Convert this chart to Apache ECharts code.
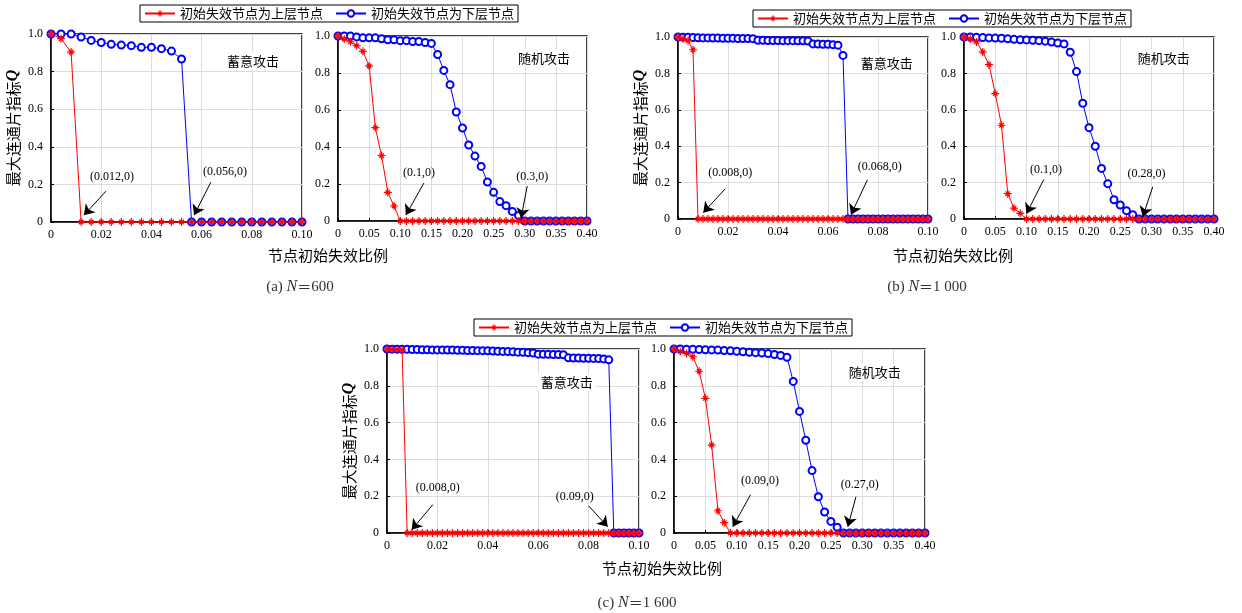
<!DOCTYPE html>
<html><head><meta charset="utf-8">
<script src="https://cdn.jsdelivr.net/npm/echarts@6/dist/echarts.min.js"></script>
<style>html,body{margin:0;padding:0;background:#fff}#c{width:1242px;height:613px}</style>
</head><body><div id="c"></div>
<script>
// ---------- DATA ----------
const RED_NAME = '初始失效节点为上层节点';
const BLUE_NAME = '初始失效节点为下层节点';
const xTickLabelsTarget = ['0','0.02','0.04','0.06','0.08','0.10'];
const xTickLabelsRandom = ['0','0.05','0.10','0.15','0.20','0.25','0.30','0.35','0.40'];
const yTickLabels = ['0','0.2','0.4','0.6','0.8','1.0'];

// x values: targeted attack (N=600) step 0.004
const xTargetA = [0,0.004,0.008,0.012,0.016,0.02,0.024,0.028,0.032,0.036,0.04,0.044,0.048,0.052,0.056,0.06,0.064,0.068,0.072,0.076,0.08,0.084,0.088,0.092,0.096,0.1];
// x values: targeted attack (N=1000, 1600) step 0.002
const xTargetBC = [0,0.002,0.004,0.006,0.008,0.01,0.012,0.014,0.016,0.018,0.02,0.022,0.024,0.026,0.028,0.03,0.032,0.034,0.036,0.038,0.04,0.042,0.044,0.046,0.048,0.05,0.052,0.054,0.056,0.058,0.06,0.062,0.064,0.066,0.068,0.07,0.072,0.074,0.076,0.078,0.08,0.082,0.084,0.086,0.088,0.09,0.092,0.094,0.096,0.098,0.1];
// x values: random attack step 0.01
const xRandom = [0,0.01,0.02,0.03,0.04,0.05,0.06,0.07,0.08,0.09,0.1,0.11,0.12,0.13,0.14,0.15,0.16,0.17,0.18,0.19,0.2,0.21,0.22,0.23,0.24,0.25,0.26,0.27,0.28,0.29,0.3,0.31,0.32,0.33,0.34,0.35,0.36,0.37,0.38,0.39,0.4];

// (a) N=600
const redA_target = [1,0.975,0.904,0,0,0,0,0,0,0,0,0,0,0,0,0,0,0,0,0,0,0,0,0,0,0];
const blueA_target = [1,1,1,0.984,0.966,0.955,0.945,0.941,0.938,0.929,0.929,0.922,0.909,0.867,0,0,0,0,0,0,0,0,0,0,0,0];
const redA_random = [1,0.984,0.969,0.948,0.917,0.838,0.505,0.353,0.155,0.081,0,0,0,0,0,0,0,0,0,0,0,0,0,0,0,0,0,0,0,0,0,0,0,0,0,0,0,0,0,0,0];
const blueA_random = [1,1,1,0.995,0.99,0.99,0.99,0.985,0.98,0.98,0.975,0.975,0.97,0.97,0.965,0.96,0.9,0.814,0.737,0.589,0.503,0.411,0.351,0.295,0.211,0.155,0.105,0.083,0.052,0.03,0,0,0,0,0,0,0,0,0,0,0];

// (b) N=1000
const redB_target = [1,0.99,0.98,0.93,0,0,0,0,0,0,0,0,0,0,0,0,0,0,0,0,0,0,0,0,0,0,0,0,0,0,0,0,0,0,0,0,0,0,0,0,0,0,0,0,0,0,0,0,0,0,0];
const blueB_target = [1,0.999,0.998,0.997,0.996,0.995,0.995,0.994,0.994,0.993,0.993,0.993,0.992,0.992,0.992,0.991,0.982,0.982,0.981,0.981,0.981,0.98,0.98,0.98,0.979,0.979,0.978,0.962,0.961,0.96,0.96,0.958,0.955,0.899,0,0,0,0,0,0,0,0,0,0,0,0,0,0,0,0,0];
const redB_random = [1,0.989,0.973,0.918,0.848,0.689,0.515,0.139,0.059,0.031,0,0,0,0,0,0,0,0,0,0,0,0,0,0,0,0,0,0,0,0,0,0,0,0,0,0,0,0,0,0,0];
const blueB_random = [1,1,0.998,0.997,0.995,0.994,0.993,0.99,0.987,0.985,0.984,0.982,0.98,0.977,0.972,0.967,0.962,0.916,0.81,0.636,0.502,0.4,0.278,0.194,0.106,0.077,0.046,0.024,0,0,0,0,0,0,0,0,0,0,0,0,0];

// (c) N=1600
const redC_target = [1,0.997,0.996,0.995,0,0,0,0,0,0,0,0,0,0,0,0,0,0,0,0,0,0,0,0,0,0,0,0,0,0,0,0,0,0,0,0,0,0,0,0,0,0,0,0,0,0,0,0,0,0,0];
const blueC_target = [1,0.999,0.999,0.998,0.998,0.997,0.997,0.996,0.996,0.995,0.995,0.995,0.994,0.994,0.993,0.993,0.992,0.992,0.991,0.991,0.99,0.989,0.988,0.987,0.986,0.985,0.983,0.982,0.98,0.978,0.972,0.971,0.971,0.97,0.97,0.969,0.952,0.951,0.951,0.95,0.95,0.949,0.948,0.946,0.941,0,0,0,0,0,0];
const redC_random = [1,0.987,0.976,0.958,0.879,0.732,0.478,0.121,0.056,0,0,0,0,0,0,0,0,0,0,0,0,0,0,0,0,0,0,0,0,0,0,0,0,0,0,0,0,0,0,0,0];
const blueC_random = [1,1,0.999,0.998,0.997,0.996,0.995,0.994,0.992,0.99,0.988,0.985,0.982,0.98,0.978,0.975,0.97,0.965,0.955,0.824,0.661,0.504,0.339,0.197,0.114,0.063,0.031,0,0,0,0,0,0,0,0,0,0,0,0,0,0];

const attackTexts = ['蓄意攻击','随机攻击','蓄意攻击','随机攻击','蓄意攻击','随机攻击'];
const calloutTexts = [['(0.012,0)','(0.056,0)'],['(0.1,0)','(0.3,0)'],['(0.008,0)','(0.068,0)'],['(0.1,0)','(0.28,0)'],['(0.008,0)','(0.09,0)'],['(0.09,0)','(0.27,0)']];
const xAxisTitle = '节点初始失效比例';
const yAxisTitle = '最大连通片指标';
const captions = [['(a)','600'],['(b)','1 000'],['(c)','1 600']];

// ---------- LAYOUT (positions in data units for callouts) ----------
const panelCfg = [
  {x:xTargetA, red:redA_target, blue:blueA_target, max:0.1, interval:0.02, ticks:xTickLabelsTarget, grid:{left:51,top:34,width:251,height:188}, yName:true,
   attackPos:[0.0805,0.858], callouts:[{tip:[0.0131,0.036],tail:[0.0219,0.164],lab:[0.0243,0.239]},{tip:[0.057,0.036],tail:[0.0637,0.212],lab:[0.0693,0.265]}]},
  {x:xRandom, red:redA_random, blue:blueA_random, max:0.4, interval:0.05, ticks:xTickLabelsRandom, grid:{left:338,top:36,width:249,height:185}, yName:false,
   attackPos:[0.331,0.881], callouts:[{tip:[0.109,0.032],tail:[0.138,0.205],lab:[0.130,0.259]},{tip:[0.294,0.016],tail:[0.304,0.189],lab:[0.312,0.238]}]},
  {x:xTargetBC, red:redB_target, blue:blueB_target, max:0.1, interval:0.02, ticks:xTickLabelsTarget, grid:{left:678,top:37,width:250,height:182}, yName:true,
   attackPos:[0.0835,0.859], callouts:[{tip:[0.0101,0.035],tail:[0.0189,0.166],lab:[0.0209,0.254]},{tip:[0.0692,0.024],tail:[0.0758,0.216],lab:[0.0807,0.287]}]},
  {x:xRandom, red:redB_random, blue:blueB_random, max:0.4, interval:0.05, ticks:xTickLabelsRandom, grid:{left:964,top:37,width:250,height:182}, yName:false,
   attackPos:[0.3195,0.886], callouts:[{tip:[0.100,0.029],tail:[0.1275,0.216],lab:[0.131,0.271]},{tip:[0.286,0.013],tail:[0.302,0.177],lab:[0.292,0.249]}]},
  {x:xTargetBC, red:redC_target, blue:blueC_target, max:0.1, interval:0.02, ticks:xTickLabelsTarget, grid:{left:387,top:349,width:252,height:184}, yName:true,
   attackPos:[0.0713,0.821], callouts:[{tip:[0.0098,0.018],tail:[0.0182,0.154],lab:[0.0201,0.246]},{tip:[0.0876,0.034],tail:[0.080,0.148],lab:[0.0745,0.197]}]},
  {x:xRandom, red:redC_random, blue:blueC_random, max:0.4, interval:0.05, ticks:xTickLabelsRandom, grid:{left:674,top:349,width:251,height:184}, yName:false,
   attackPos:[0.320,0.875], callouts:[{tip:[0.0937,0.034],tail:[0.122,0.208],lab:[0.137,0.284]},{tip:[0.277,0.034],tail:[0.290,0.197],lab:[0.296,0.262]}]}
];

const STAR = 'path://M8.5 0L11.5 0L11.5 20L8.5 20Z M0 8.5L20 8.5L20 11.5L0 11.5Z M5.4 3.28L16.72 14.6L14.6 16.72L3.28 5.4Z M14.6 3.28L16.72 5.4L5.4 16.72L3.28 14.6Z';
const SERIF = '"Liberation Serif", "DejaVu Serif", serif';
const CJK = '"Noto Sans CJK SC", sans-serif';

const grids = [], xAxes = [], yAxes = [], series = [];
panelCfg.forEach((p, i) => {
  grids.push(Object.assign({show:true, borderColor:'#000', borderWidth:1.5, backgroundColor:'transparent'}, p.grid));
  xAxes.push({
    type:'value', gridIndex:i, min:0, max:p.max, interval:p.interval,
    axisLine:{show:true, onZero:false, lineStyle:{color:'#000', width:1.5}},
    axisTick:{show:true, inside:true, length:3, lineStyle:{color:'#000'}},
    axisLabel:{color:'#000', fontFamily:SERIF, fontSize:12, margin:7,
      formatter:(v)=>{ const k=Math.round(v/p.interval); return p.ticks[k]!==undefined?p.ticks[k]:''; }},
    splitLine:{show:true, lineStyle:{color:'#dcdcdc', width:1}}
  });
  yAxes.push({
    type:'value', gridIndex:i, min:0, max:1, interval:0.2,
    name: p.yName ? yAxisTitle + '{q|Q}' : '',
    nameLocation:'middle', nameGap:30, nameRotate:90,
    nameTextStyle:{fontFamily:CJK, fontSize:15, color:'#000',
      rich:{q:{fontFamily:SERIF, fontStyle:'italic', fontWeight:'bold', fontSize:16, color:'#000'}}},
    axisLine:{show:true, lineStyle:{color:'#000', width:1.5}},
    axisTick:{show:true, inside:true, length:3, lineStyle:{color:'#000'}},
    axisLabel:{color:'#000', fontFamily:SERIF, fontSize:12, margin:8,
      formatter:(v)=>{ const k=Math.round(v/0.2); return yTickLabels[k]; }},
    splitLine:{show:true, lineStyle:{color:'#dcdcdc', width:1}}
  });
  series.push({
    type:'line', name:BLUE_NAME, xAxisIndex:i, yAxisIndex:i, z:2, clip:false,
    data:p.x.map((v,k)=>[v, p.blue[k]]),
    symbol:'emptyCircle', symbolSize:7,
    lineStyle:{color:'#0000ff', width:1},
    itemStyle:{color:'#0000ff', borderWidth:1}
  });
  series.push({
    type:'line', name:RED_NAME, xAxisIndex:i, yAxisIndex:i, z:3, clip:false,
    data:p.x.map((v,k)=>[v, p.red[k]]),
    symbol:STAR, symbolSize:8,
    lineStyle:{color:'#ff0000', width:1},
    itemStyle:{color:'#ff0000'},
    markLine:{
      silent:true, animation:false, symbol:['none','arrow'], symbolSize:10,
      lineStyle:{color:'#000', width:1, type:'solid'}, label:{show:false},
      data:p.callouts.map(c=>[{coord:c.tail},{coord:c.tip}])
    },
    markPoint:{
      silent:true, animation:false, symbol:'rect', symbolSize:1, itemStyle:{color:'rgba(0,0,0,0)'},
      data:[
        {name:attackTexts[i], coord:p.attackPos,
         label:{show:true, position:'inside', formatter:'{b}', color:'#000', fontFamily:CJK, fontSize:13, backgroundColor:'#fff', padding:[2,3]}},
        ...p.callouts.map((c,j)=>({name:calloutTexts[i][j], coord:c.lab,
         label:{show:true, position:'inside', formatter:'{b}', color:'#000', fontFamily:SERIF, fontSize:12}}))
      ]
    }
  });
});

const legendPos = [{left:140, top:5},{left:753, top:10},{left:474, top:319}];
const legends = legendPos.map(p => Object.assign({
  data:[RED_NAME, BLUE_NAME], orient:'horizontal', itemWidth:30, itemHeight:8, itemGap:12,
  borderColor:'#000', borderWidth:1, padding:[2,4], backgroundColor:'#fff', selectedMode:false,
  textStyle:{fontFamily:CJK, fontSize:13, color:'#000'}
}, p));

const xNamePos = [[328,255],[953,255],[662,568]];
const capPos = [[300,287],[927,287],[637,603]];
const graphics = [];
xNamePos.forEach(q => graphics.push({type:'text', x:q[0], y:q[1], silent:true,
  style:{text:xAxisTitle, align:'center', verticalAlign:'middle', font:'15px "Noto Sans CJK SC"', fill:'#000'}}));
capPos.forEach((q,i) => graphics.push({type:'text', x:q[0], y:q[1], silent:true,
  style:{text:captions[i][0]+' {n|N}{e|＝}'+captions[i][1], align:'center', verticalAlign:'middle',
    font:'15px "Liberation Serif"', fill:'#333',
    rich:{n:{fontStyle:'italic', fontFamily:'Liberation Serif', fontSize:16, fill:'#333'}, e:{fontFamily:'Noto Sans CJK SC', fontSize:14, fill:'#333'}}}}));

const chart = echarts.init(document.getElementById('c'));
chart.setOption({
  animation:false, backgroundColor:'#fff',
  grid:grids, xAxis:xAxes, yAxis:yAxes, series:series, legend:legends, graphic:graphics
});
</script></body></html>
